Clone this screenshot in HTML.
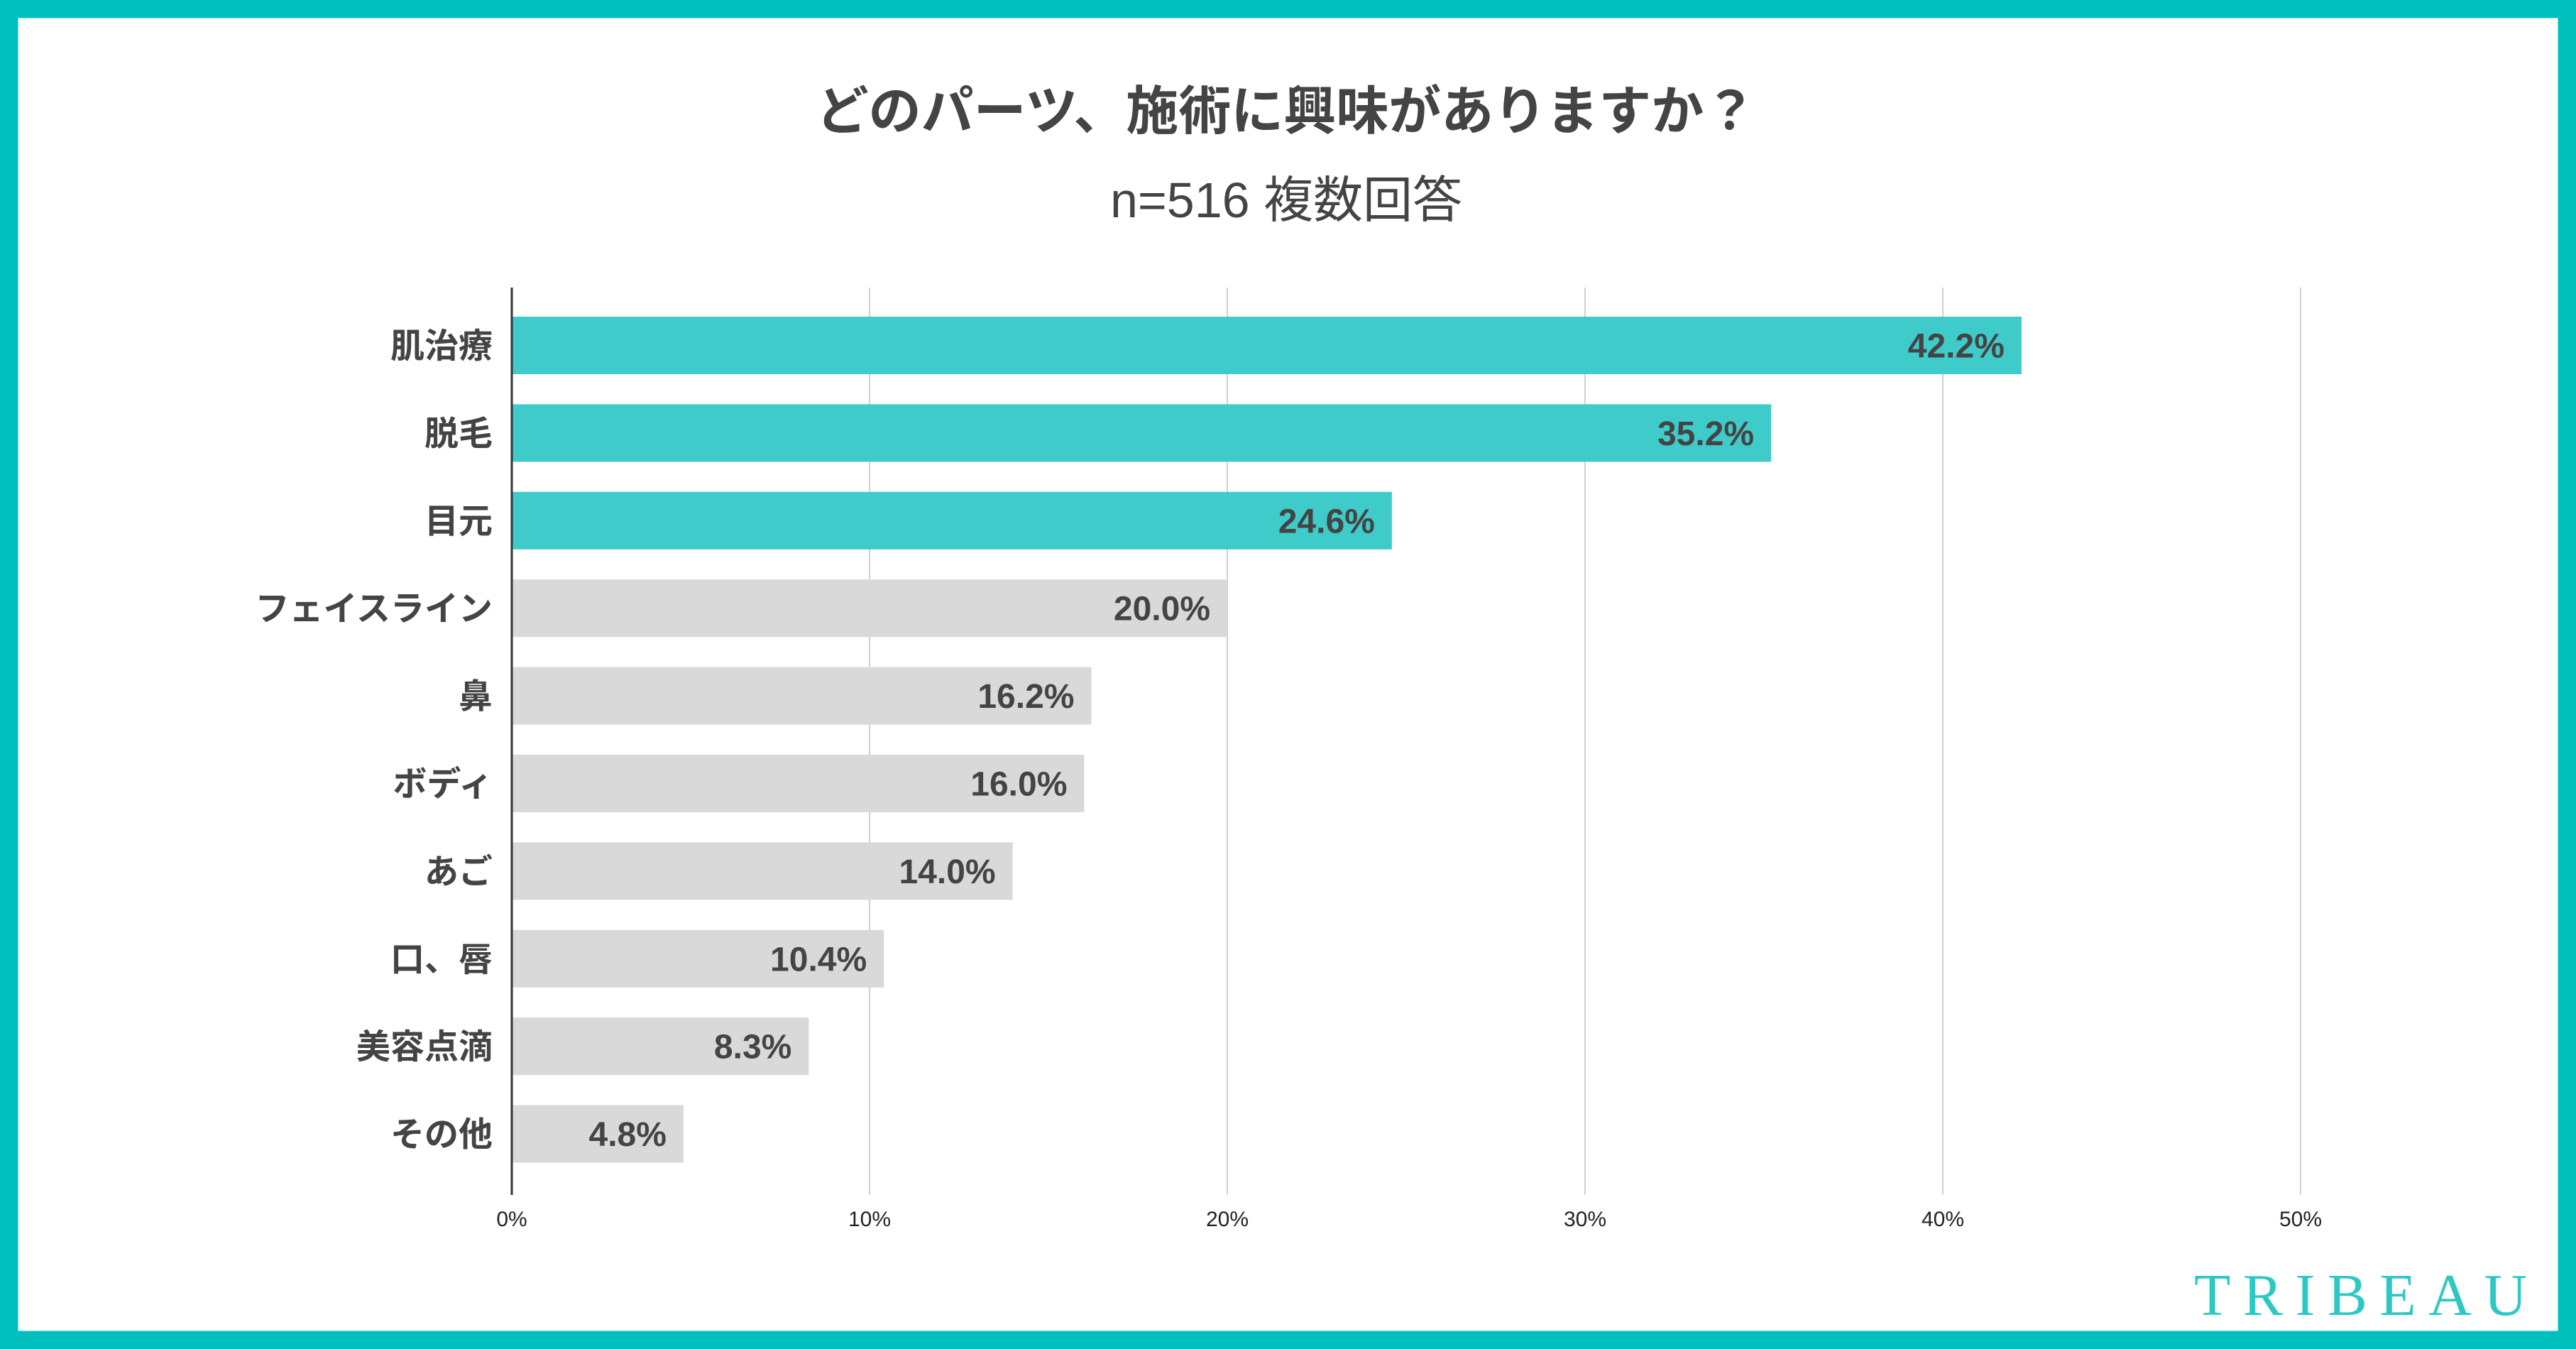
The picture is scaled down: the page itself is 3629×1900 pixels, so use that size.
<!DOCTYPE html>
<html><head><meta charset="utf-8"><style>
html,body{margin:0;padding:0;background:#fff}
svg{display:block}
text{font-family:"Liberation Sans","Noto Sans CJK JP",sans-serif}
</style></head><body>
<svg id="chart" width="3629" height="1900" viewBox="0 0 3629 1900" xmlns="http://www.w3.org/2000/svg">
<rect x="12.5" y="12.5" width="3604" height="1875" fill="#fff" stroke="#00C0BE" stroke-width="26"/>
<text x="1812" y="182" text-anchor="middle" font-size="74" font-weight="bold" fill="#444">どのパーツ、施術に興味がありますか？</text>
<text x="1812" y="306" text-anchor="middle" font-size="70" fill="#444">n=516 複数回答</text>
<g id="grid"></g>
<g id="bars"></g>
<line x1="721" y1="405" x2="721" y2="1683" stroke="#333" stroke-width="3"/>
<text x="3091" y="1852" font-size="84" fill="#2EC8C4" textLength="469" lengthAdjust="spacing" style="font-family:'Liberation Serif',serif">TRIBEAU</text>
</svg>
<script>
const categories = ["肌治療","脱毛","目元","フェイスライン","鼻","ボディ","あご","口、唇","美容点滴","その他"];
const values = [42.2,35.2,24.6,20.0,16.2,16.0,14.0,10.4,8.3,4.8];
const highlighted = [true,true,true,false,false,false,false,false,false,false];
const ticks = [0,10,20,30,40,50];
const tickLabels = ["0%","10%","20%","30%","40%","50%"];

const NS = "http://www.w3.org/2000/svg";
const x0 = 721, pxPerPct = 50.4;
const xScale = v => x0 + v * pxPerPct;
const yTop = 446, step = 123.4, barH = 81;
const yScale = i => yTop + i * step;

function mk(tag, attrs, parent, txt) {
  const e = document.createElementNS(NS, tag);
  for (const k in attrs) e.setAttribute(k, attrs[k]);
  if (txt !== undefined) e.textContent = txt;
  parent.appendChild(e);
  return e;
}
const grid = document.getElementById('grid');
ticks.forEach((t, i) => {
  if (t !== 0) {
    const l = mk('line', {x1: xScale(t), x2: xScale(t), y1: 405, y2: 1683, stroke: '#d0d0d0', 'stroke-width': 2}, grid);
    
    
  }
  const tl = mk('text', {x: xScale(t), y: 1727, 'text-anchor': 'middle', 'font-size': 30, fill: '#222'}, grid, tickLabels[i]);
  
  
});
const bars = document.getElementById('bars');
categories.forEach((c, i) => {
  const y = yScale(i);
  const r = mk('rect', {x: x0, y: y, width: xScale(values[i]) - x0, height: barH, fill: highlighted[i] ? '#3ECBC9' : '#D9D9D9'}, bars);
  
  
  const cl = mk('text', {x: 694, y: y + barH / 2 + 17, 'text-anchor': 'end', 'font-size': 48, 'font-weight': 'bold', fill: '#444'}, bars, c);
  
  
  const vl = mk('text', {x: xScale(values[i]) - 24, y: y + barH / 2 + 17, 'text-anchor': 'end', 'font-size': 48, 'font-weight': 'bold', fill: '#444'}, bars, values[i].toFixed(1) + '%');
  
  
});
</script>
</body></html>
